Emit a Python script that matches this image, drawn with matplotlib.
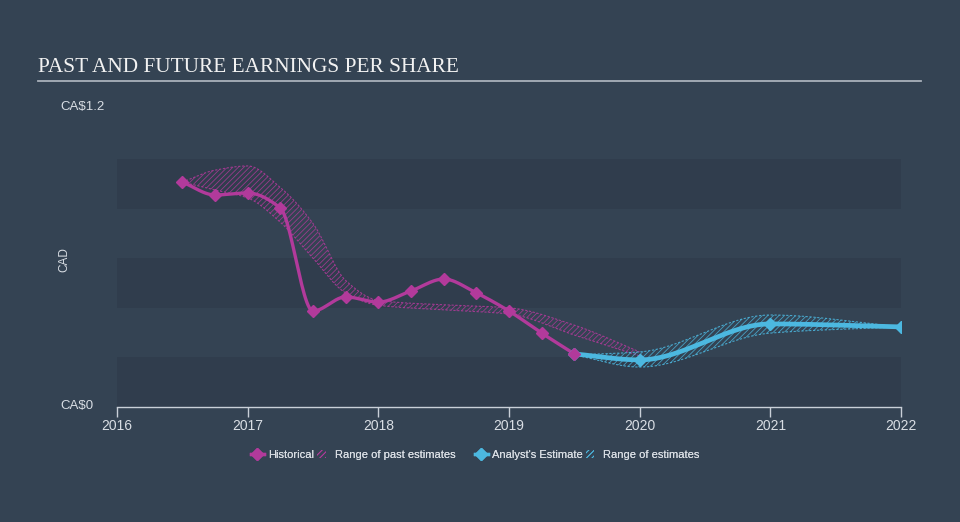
import numpy as np
import matplotlib
matplotlib.use("Agg")
import matplotlib.pyplot as plt
from matplotlib.lines import Line2D
from matplotlib.patches import Patch

# historical EPS (CA$)
hist_x = [2016.5, 2016.75, 2017.0, 2017.25, 2017.5, 2017.75, 2018.0,
          2018.25, 2018.5, 2018.75, 2019.0, 2019.25, 2019.5]
hist_y = [0.907, 0.855, 0.863, 0.802, 0.387, 0.444, 0.423,
          0.468, 0.516, 0.46, 0.387, 0.298, 0.214]

# range of past estimates
past_x = [2016.5, 2016.75, 2017.0, 2017.25, 2017.5, 2017.75, 2018.0,
          2018.5, 2019.0, 2019.5, 2020.0]
past_hi = [0.907, 0.955, 0.972, 0.885, 0.74, 0.51, 0.43,
           0.412, 0.40, 0.33, 0.222]
past_lo = [0.907, 0.875, 0.843, 0.745, 0.60, 0.46, 0.41,
           0.392, 0.375, 0.29, 0.206]

# analyst estimates
fc_x = [2019.5, 2020.0, 2021.0, 2022.0]
fc_y = [0.214, 0.19, 0.335, 0.323]
fc_hi = [0.21, 0.222, 0.371, 0.323]
fc_lo = [0.21, 0.161, 0.298, 0.323]

years = [2016, 2017, 2018, 2019, 2020, 2021, 2022]

BG = "#344353"
BAND = "#303d4d"
MAGENTA = "#b23a9b"
CYAN = "#4cb8e0"
TXT = "#d9dee4"


def monotone(x, y, n=300):
    """Monotone cubic (Fritsch-Carlson) interpolation for smooth curves."""
    x = np.asarray(x, float)
    y = np.asarray(y, float)
    h = np.diff(x)
    d = np.diff(y) / h
    m = np.zeros_like(y)
    m[0], m[-1] = d[0], d[-1]
    for k in range(1, len(x) - 1):
        if d[k - 1] * d[k] <= 0:
            m[k] = 0.0
        else:
            w1 = 2 * h[k] + h[k - 1]
            w2 = h[k] + 2 * h[k - 1]
            m[k] = (w1 + w2) / (w1 / d[k - 1] + w2 / d[k])
    xs = np.linspace(x[0], x[-1], n)
    idx = np.clip(np.searchsorted(x, xs) - 1, 0, len(x) - 2)
    t = (xs - x[idx]) / h[idx]
    h00 = 2 * t**3 - 3 * t**2 + 1
    h10 = t**3 - 2 * t**2 + t
    h01 = -2 * t**3 + 3 * t**2
    h11 = t**3 - t**2
    ys = (h00 * y[idx] + h10 * h[idx] * m[idx]
          + h01 * y[idx + 1] + h11 * h[idx] * m[idx + 1])
    return xs, ys


plt.rcParams["font.family"] = ["Liberation Sans", "DejaVu Sans"]
plt.rcParams["hatch.linewidth"] = 0.6

fig = plt.figure(figsize=(9.6, 5.22), dpi=100, facecolor=BG)
ax = fig.add_axes([117 / 960, 1 - 407 / 522, 784 / 960, 297.6 / 522])
ax.set_facecolor(BG)
ax.set_xlim(2016, 2022)
ax.set_ylim(0, 1.2)

for lo in (0.0, 0.4, 0.8):
    ax.axhspan(lo, lo + 0.2, color=BAND, lw=0, zorder=0)

# estimate ranges
for xs_, hi_, lo_, col in ((past_x, past_hi, past_lo, MAGENTA),
                           (fc_x, fc_hi, fc_lo, CYAN)):
    sx, shi = monotone(xs_, hi_)
    _, slo = monotone(xs_, lo_)
    ax.fill_between(sx, slo, shi, facecolor="none", edgecolor=col,
                    hatch="//////", linewidth=0, alpha=0.8, zorder=1)
    ax.plot(sx, shi, color=col, lw=0.8, ls=(0, (2, 1.5)), alpha=0.85, zorder=1)
    ax.plot(sx, slo, color=col, lw=0.8, ls=(0, (2, 1.5)), alpha=0.85, zorder=1)

sx, sy = monotone(fc_x, fc_y)
ax.plot(sx, sy, color=CYAN, lw=3.4, solid_capstyle="round", zorder=3)
ax.plot(fc_x, fc_y, ls="none", marker="D", ms=6.5, color=CYAN, zorder=4)

sx, sy = monotone(hist_x, hist_y)
ax.plot(sx, sy, color=MAGENTA, lw=2.4, solid_capstyle="round", zorder=3)
ax.plot(hist_x, hist_y, ls="none", marker="D", ms=6.5, color=MAGENTA, zorder=4)

for s in ("top", "right", "left"):
    ax.spines[s].set_visible(False)
ax.spines["bottom"].set_color("#c9d0d8")
ax.spines["bottom"].set_linewidth(1.0)
ax.set_xticks(years)
ax.set_xticklabels([str(y) for y in years])
ax.tick_params(axis="x", colors="#c9d0d8", labelcolor=TXT, labelsize=10,
               length=7, width=1.0, pad=2)
ax.set_yticks([])

fig.text(60 / 960, 1 - 107 / 522, "CA$1.2", color=TXT, fontsize=9.5,
         ha="left", va="center")
fig.text(60 / 960, 1 - 406 / 522, "CA$0", color=TXT, fontsize=9.5,
         ha="left", va="center")
fig.text(64 / 960, 1 - 260 / 522, "CAD", color=TXT, fontsize=8.5,
         rotation=90, ha="center", va="center")

fig.text(38 / 960, 1 - 67 / 522, "PAST AND FUTURE EARNINGS PER SHARE",
         family="Liberation Serif", color="#f2f2f2", fontsize=15.3,
         ha="left", va="center")
fig.add_artist(Line2D([38 / 960, 921 / 960], [1 - 81 / 522, 1 - 81 / 522],
                      color="#a9b1bb", lw=1.3))

# legend: two groups placed side by side
groups = [
    (MAGENTA, ["Historical", "Range of past estimates"], 353),
    (CYAN, ["Analyst's Estimate", "Range of estimates"], 587),
]
for col, labels, cx in groups:
    handles = [
        Line2D([], [], color=col, lw=2.4, marker="D", ms=6),
        Patch(facecolor="none", edgecolor=col, hatch="//////", lw=0),
    ]
    leg = fig.legend(handles, labels, loc="center", ncol=2, frameon=False,
                     bbox_to_anchor=(cx / 960, 1 - 455 / 522), fontsize=8,
                     handlelength=1.2, handletextpad=0.35, columnspacing=0.3,
                     labelcolor=TXT)
    leg.legend_handles[1].set_width(6)
    fig.add_artist(leg)

fig.savefig("out.png", dpi=100, facecolor=BG)
